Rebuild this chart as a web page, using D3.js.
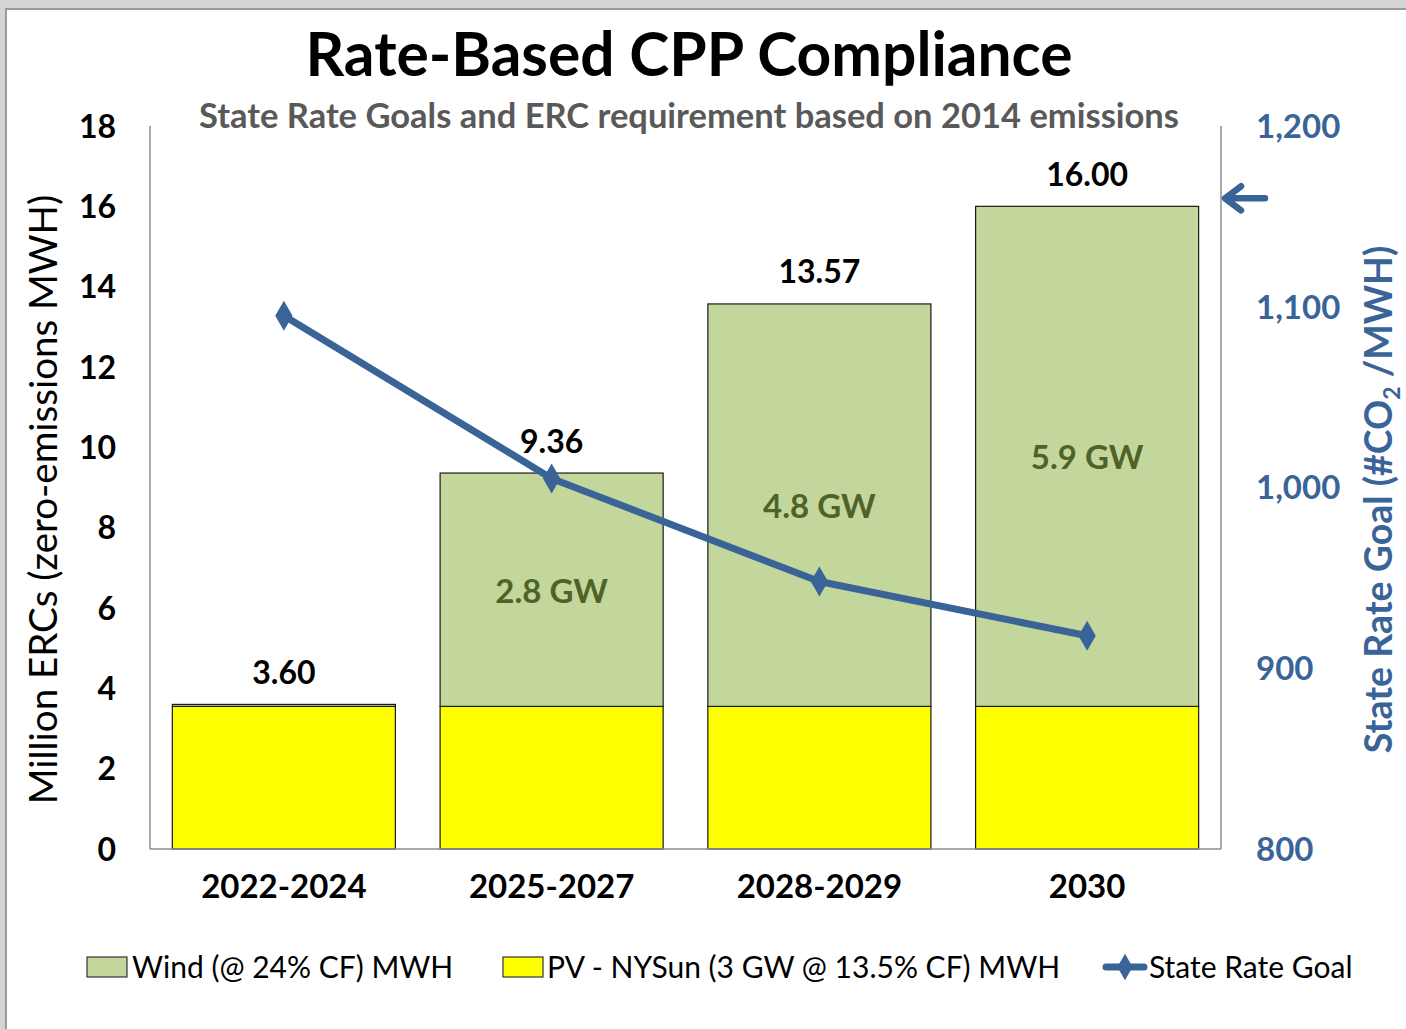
<!DOCTYPE html>
<html>
<head>
<meta charset="utf-8">
<script src="https://cdn.jsdelivr.net/npm/d3@7"></script>
<style>
  body { margin: 0; background: #d4d4d4; }
  svg { display: block; font-family: Lato, "Open Sans", sans-serif; }
</style>
</head>
<body>
<div id="chart"></div>
<script>
const categories = ["2022-2024", "2025-2027", "2028-2029", "2030"];
const pvValues = [3.55, 3.55, 3.55, 3.55];
const windValues = [0.05, 5.81, 10.02, 12.45];
const totalLabels = ["3.60", "9.36", "13.57", "16.00"];
const gwLabels = ["", "2.8 GW", "4.8 GW", "5.9 GW"];
const rateGoal = [1095, 1005, 948, 918];
const leftTicks = [0, 2, 4, 6, 8, 10, 12, 14, 16, 18];
const rightTicks = [800, 900, 1000, 1100, 1200];
const arrowValue = 1160;

const W = 1406, H = 1029;
const margin = { top: 126, right: 185, bottom: 180, left: 150 };
const blue = "#3a6497";

const svg = d3.select("#chart").append("svg")
    .attr("width", W)
    .attr("height", H);

// frame
svg.append("rect")
    .attr("x", 6).attr("y", 9)
    .attr("width", W).attr("height", H)
    .attr("fill", "#fff")
    .attr("stroke", "#9a9a9a")
    .attr("stroke-width", 2);

const x = d3.scaleBand()
    .domain(categories)
    .range([margin.left, W - margin.right])
    .paddingInner(0.167)
    .paddingOuter(0.0835);

const y = d3.scaleLinear()
    .domain([0, 18])
    .range([H - margin.bottom, margin.top]);

const y2 = d3.scaleLinear()
    .domain([800, 1200])
    .range([H - margin.bottom, margin.top]);

// titles
svg.append("text")
    .attr("x", 689).attr("y", 76)
    .attr("text-anchor", "middle")
    .style("font-size", "60.5px")
    .style("font-weight", "bold")
    .text("Rate-Based CPP Compliance");

svg.append("text")
    .attr("x", 689).attr("y", 128)
    .attr("text-anchor", "middle")
    .style("font-size", "34.5px")
    .style("font-weight", "bold")
    .attr("fill", "#595959")
    .text("State Rate Goals and ERC requirement based on 2014 emissions");

// bars
const bars = svg.append("g");
bars.selectAll("rect.pv")
    .data(pvValues)
    .enter()
    .append("rect")
    .attr("class", "pv")
    .attr("x", (d, i) => x(categories[i]))
    .attr("y", d => y(d))
    .attr("width", x.bandwidth())
    .attr("height", d => y(0) - y(d))
    .attr("fill", "#ffff00")
    .attr("stroke", "#1a1a1a")
    .attr("stroke-width", 1.2);

bars.selectAll("rect.wind")
    .data(windValues)
    .enter()
    .append("rect")
    .attr("class", "wind")
    .attr("x", (d, i) => x(categories[i]))
    .attr("y", (d, i) => y(pvValues[i] + d))
    .attr("width", x.bandwidth())
    .attr("height", (d, i) => y(pvValues[i]) - y(pvValues[i] + d))
    .attr("fill", "#c3d69b")
    .attr("stroke", "#1a1a1a")
    .attr("stroke-width", 1.2);

// axes lines
const axisColor = "#8c8c8c";
svg.append("line")
    .attr("x1", margin.left).attr("x2", margin.left)
    .attr("y1", y(18)).attr("y2", y(0))
    .attr("stroke", axisColor).attr("stroke-width", 1.5);
svg.append("line")
    .attr("x1", W - margin.right).attr("x2", W - margin.right)
    .attr("y1", y(18)).attr("y2", y(0))
    .attr("stroke", axisColor).attr("stroke-width", 1.5);
svg.append("line")
    .attr("x1", margin.left).attr("x2", W - margin.right)
    .attr("y1", y(0)).attr("y2", y(0))
    .attr("stroke", axisColor).attr("stroke-width", 1.5);

// left tick labels
svg.append("g").selectAll("text")
    .data(leftTicks)
    .enter()
    .append("text")
    .attr("x", 116)
    .attr("y", d => y(d))
    .attr("dy", "0.36em")
    .attr("text-anchor", "end")
    .style("font-size", "32px")
    .style("font-weight", "bold")
    .text(d => d);

// right tick labels
svg.append("g").selectAll("text")
    .data(rightTicks)
    .enter()
    .append("text")
    .attr("x", 1256)
    .attr("y", d => y2(d))
    .attr("dy", "0.36em")
    .attr("fill", blue)
    .style("font-size", "33px")
    .style("font-weight", "bold")
    .text(d => d3.format(",")(d));

// category labels
svg.append("g").selectAll("text")
    .data(categories)
    .enter()
    .append("text")
    .attr("x", d => x(d) + x.bandwidth() / 2)
    .attr("y", 886)
    .attr("dy", "0.36em")
    .attr("text-anchor", "middle")
    .style("font-size", "33px")
    .style("font-weight", "bold")
    .text(d => d);

// axis titles
svg.append("text")
    .attr("transform", `translate(57,${(y(0) + y(18)) / 2 + 12}) rotate(-90)`)
    .attr("text-anchor", "middle")
    .style("font-size", "38.5px")
    .text("Million ERCs (zero-emissions MWH)");

const rt = svg.append("text")
    .attr("transform", `translate(1392,${(y(0) + y(18)) / 2 + 12}) rotate(-90)`)
    .attr("text-anchor", "middle")
    .attr("fill", blue)
    .style("font-size", "37.5px")
    .style("font-weight", "bold");
rt.append("tspan").text("State Rate Goal (#CO");
rt.append("tspan").attr("dy", 8).style("font-size", "23px").text("2");
rt.append("tspan").attr("dy", -8).text(" /MWH)");

// total labels above bars
svg.append("g").selectAll("text")
    .data(totalLabels)
    .enter()
    .append("text")
    .attr("x", (d, i) => x(categories[i]) + x.bandwidth() / 2)
    .attr("y", (d, i) => y(pvValues[i] + windValues[i]) - 32)
    .attr("dy", "0.36em")
    .attr("text-anchor", "middle")
    .style("font-size", "32px")
    .style("font-weight", "bold")
    .text(d => d);

// GW labels inside wind segment
svg.append("g").selectAll("text")
    .data(gwLabels)
    .enter()
    .append("text")
    .attr("x", (d, i) => x(categories[i]) + x.bandwidth() / 2)
    .attr("y", (d, i) => y(pvValues[i] + windValues[i] / 2) + 1)
    .attr("dy", "0.36em")
    .attr("text-anchor", "middle")
    .attr("fill", "#4f6228")
    .style("font-size", "33px")
    .style("font-weight", "bold")
    .text(d => d);

// rate goal line
const line = d3.line()
    .x((d, i) => x(categories[i]) + x.bandwidth() / 2)
    .y(d => y2(d));

svg.append("path")
    .datum(rateGoal)
    .attr("fill", "none")
    .attr("stroke", blue)
    .attr("stroke-width", 7)
    .attr("stroke-linejoin", "round")
    .attr("d", line);

const diamond = d3.symbol().type(d3.symbolDiamond).size(260);
svg.append("g").selectAll("path")
    .data(rateGoal)
    .enter()
    .append("path")
    .attr("d", diamond)
    .attr("transform", (d, i) => `translate(${x(categories[i]) + x.bandwidth() / 2},${y2(d)})`)
    .attr("fill", blue);

// arrow annotation
const ay = y2(arrowValue);
const ax = W - margin.right + 2;
svg.append("path")
    .attr("d", `M${ax + 42},${ay} L${ax + 4},${ay} M${ax + 18},${ay - 12} L${ax + 2},${ay} L${ax + 18},${ay + 12}`)
    .attr("fill", "none")
    .attr("stroke", blue)
    .attr("stroke-width", 6.5)
    .attr("stroke-linecap", "round")
    .attr("stroke-linejoin", "round");

// legend
const legend = svg.append("g").style("font-size", "30px");
const legY = 967;
legend.append("rect").attr("x", 87).attr("y", legY - 10).attr("width", 40).attr("height", 20)
    .attr("fill", "#c3d69b").attr("stroke", "#333").attr("stroke-width", 1.2);
legend.append("text").attr("x", 132).attr("y", legY).attr("dy", "0.36em")
    .text("Wind (@ 24% CF) MWH");
legend.append("rect").attr("x", 503).attr("y", legY - 10).attr("width", 40).attr("height", 20)
    .attr("fill", "#ffff00").attr("stroke", "#333").attr("stroke-width", 1.2);
legend.append("text").attr("x", 547).attr("y", legY).attr("dy", "0.36em")
    .text("PV - NYSun (3 GW @ 13.5% CF) MWH");
legend.append("line").attr("x1", 1106).attr("x2", 1144).attr("y1", legY).attr("y2", legY)
    .attr("stroke", blue).attr("stroke-width", 7).attr("stroke-linecap", "round");
legend.append("path").attr("d", d3.symbol().type(d3.symbolDiamond).size(200))
    .attr("transform", `translate(1125,${legY})`).attr("fill", blue);
legend.append("text").attr("x", 1149).attr("y", legY).attr("dy", "0.36em")
    .text("State Rate Goal");
</script>
</body>
</html>
